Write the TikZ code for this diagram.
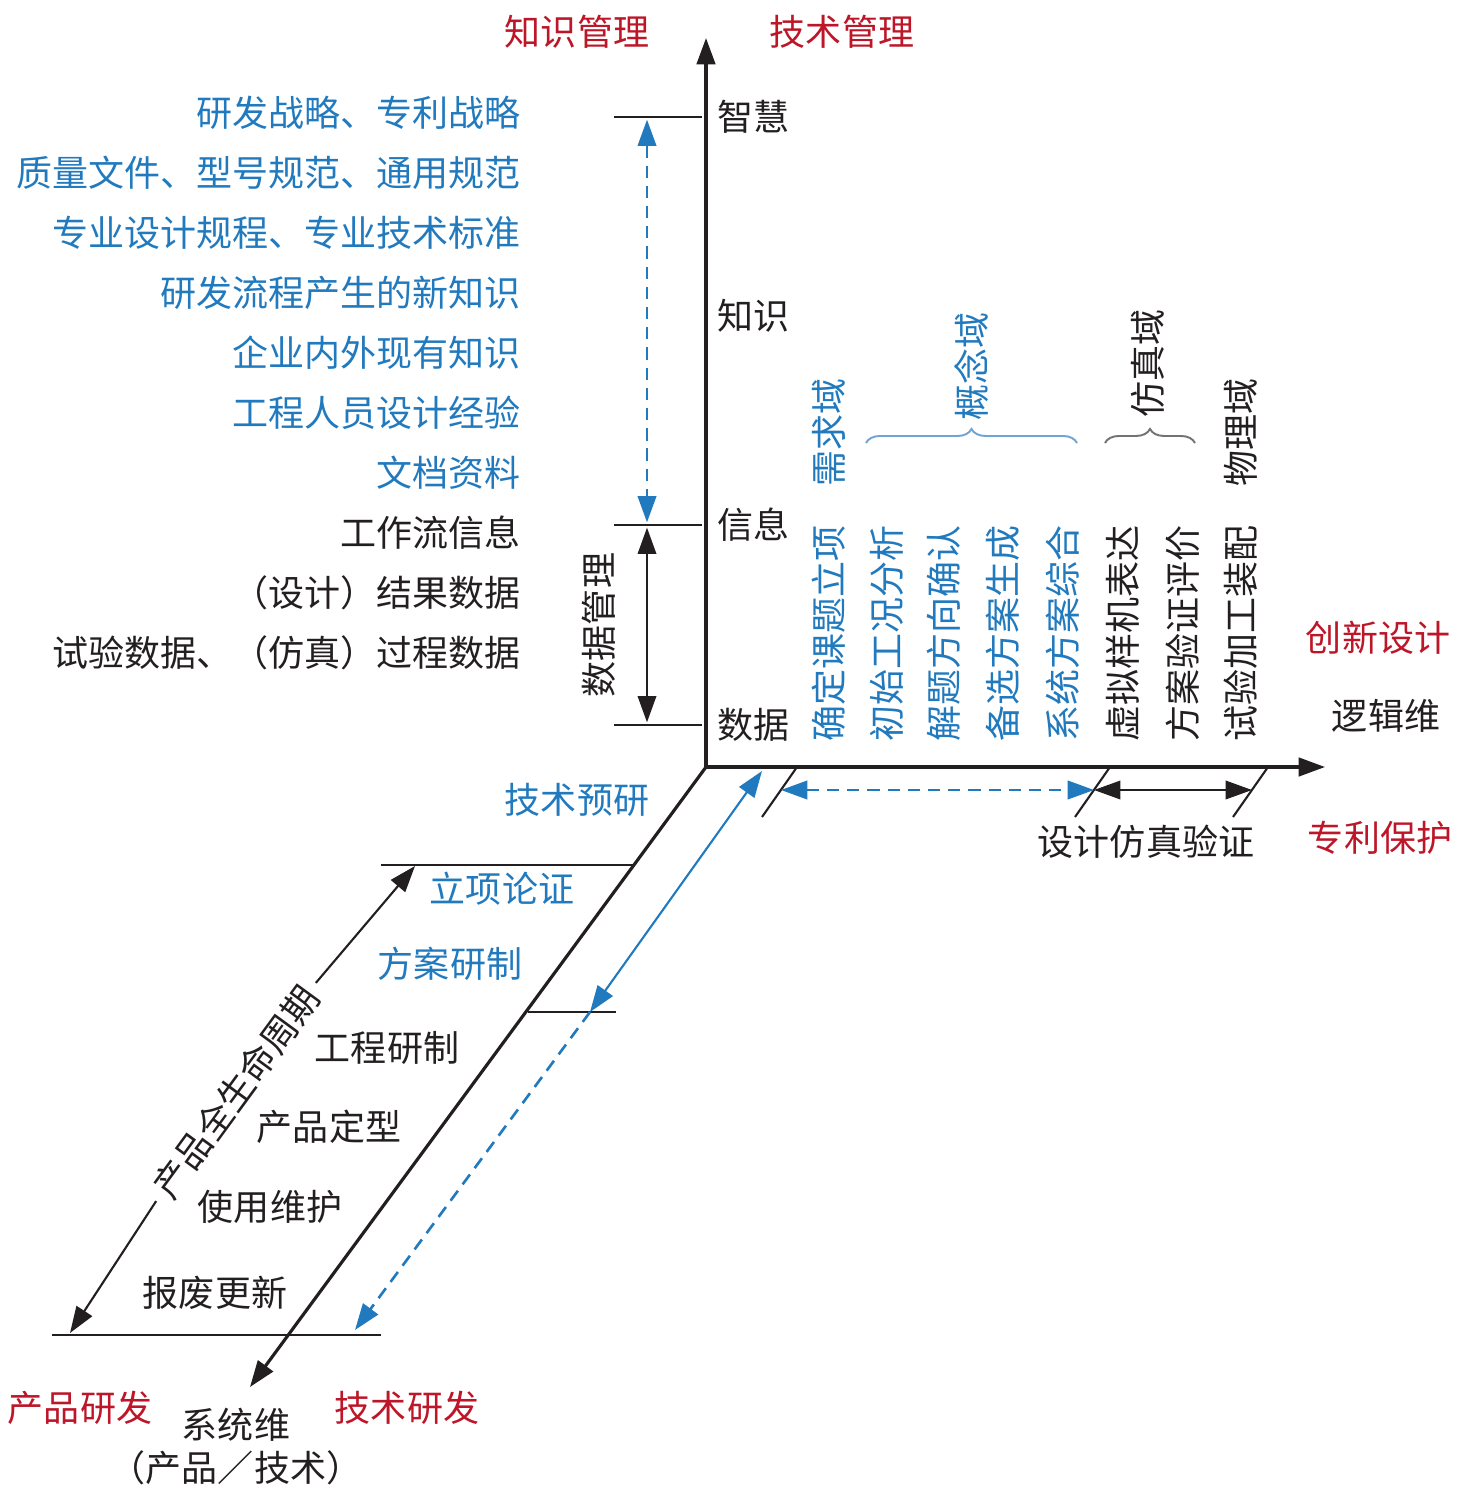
\documentclass[tikz,border=0pt]{standalone}
\usepackage{fontspec}
\setmainfont{Noto Sans CJK SC}
\usetikzlibrary{arrows.meta,decorations.pathreplacing}
\definecolor{ink}{RGB}{35,31,32}
\definecolor{kblue}{RGB}{34,122,190}
\definecolor{kred}{RGB}{188,22,40}
\definecolor{lblue}{RGB}{110,165,212}
\definecolor{kgray}{RGB}{115,115,115}

\begin{document}
\begin{tikzpicture}[x=0.02cm,y=-0.02cm,
  >={Triangle[length=15pt,width=10.5pt]},
  every node/.style={inner sep=0pt,font=\fontsize{20.5}{24}\selectfont,text=ink},
  axisln/.style={draw=ink,line width=1.8pt},
  tickln/.style={draw=ink,line width=1.2pt},
  bsolid/.style={draw=kblue,line width=1.2pt},
  bdash/.style={draw=kblue,line width=1.5pt,dash pattern=on 7pt off 4.5pt},
  btxt/.style={text=kblue},
  rtxt/.style={text=kred},
  vtxt/.style={rotate=90,anchor=west},
  dombrace/.style={decorate,decoration={brace,amplitude=8pt},line width=1.1pt}]
\useasboundingbox (0,0) rectangle (1458,1493);

% axes
\coordinate (O) at (706,767);
\coordinate (ytip) at (706,38);
\coordinate (xtip) at (1325,767);
\coordinate (ztip) at (250,1387);
\draw[axisln,->] (O) -- (ytip);
\draw[axisln,->] (O) -- (xtip);
\draw[axisln,->] (O) -- (ztip);

\node[rtxt] (km) at (577,32) {知识管理};
\node[rtxt] (tm) at (842,32) {技术管理};

% vertical levels
\foreach \n/\y/\t in {wis/117/智慧,kno/316/知识,inf/525/信息,dat/725/数据}{
  \node[anchor=west] (\n) at (717,\y) {\t};
}
\foreach \n/\y in {wis/117,inf/525,dat/725}{
  \coordinate (\n L) at (614,\y);
  \coordinate (\n R) at (702,\y);
  \coordinate (\n M) at (647,\y);
  \draw[tickln] (\n L) -- (\n R);
}
\draw[bdash,<->,shorten <=1.5pt,shorten >=1.5pt] (wisM) -- (infM);
\draw[tickln,<->,shorten <=1.5pt,shorten >=1.5pt] (infM) -- (datM);
\node[rotate=90] (dm) at (599,625) {数据管理};

% knowledge sources
\foreach \y/\t in {113/研发战略、专利战略,173/质量文件、型号规范、通用规范,
  233/专业设计规程、专业技术标准,293/研发流程产生的新知识,353/企业内外现有知识,
  413/工程人员设计经验,473/文档资料}{
  \node[btxt,anchor=east] at (521,\y) {\t};
}
\node[anchor=east] (wf) at (521,533) {工作流信息};
\node[anchor=east] (rd) at (521,593) {（设计）结果数据};
\node[anchor=east] (pd) at (521,653) {试验数据、（仿真）过程数据};

% logic dimension columns
\foreach \x/\t in {829/确定课题立项,887/初始工况分析,944/解题方向确认,1003/备选方案生成,1063/系统方案综合}{
  \node[btxt,vtxt] at (\x,742) {\t};
}
\foreach \x/\t in {1123/虚拟样机表达,1183/方案验证评价,1241/试验加工装配}{
  \node[vtxt] at (\x,742) {\t};
}
\node[btxt,vtxt] (req) at (829,487) {需求域};
\node[btxt,vtxt] (con) at (972,421) {概念域};
\node[vtxt] (sim) at (1148,418) {仿真域};
\node[vtxt] (phy) at (1241,487) {物理域};
\coordinate (cb1) at (866,443);
\coordinate (cb2) at (1077,443);
\coordinate (sb1) at (1105,443);
\coordinate (sb2) at (1195,443);
\draw[dombrace,draw=lblue] (cb1) -- (cb2);
\draw[dombrace,draw=kgray] (sb1) -- (sb2);

\node[rtxt] (inn) at (1378,638) {创新设计};
\node (logic) at (1386,716) {逻辑维};
\node[rtxt] (pat) at (1380,838) {专利保护};

% slanted ticks on the logic axis
\foreach \n/\x in {ta/797,tb/1110,tc/1268}{
  \coordinate (\n T) at (\x,767);
  \coordinate (\n B) at (\x-35,817);
  \coordinate (\n M) at (\x-16,790);
  \draw[tickln] (\n T) -- (\n B);
}
\draw[bdash,<->] (taM) -- (tbM);
\draw[tickln,<->] (tbM) -- (tcM);
\node (dsv) at (1146,842) {设计仿真验证};

% system dimension
\coordinate (l1a) at (381,865);
\coordinate (l1b) at (634,865);
\coordinate (l2a) at (528,1012);
\coordinate (l2b) at (616,1012);
\coordinate (l3a) at (52,1335);
\coordinate (l3b) at (381,1335);
\draw[tickln] (l1a) -- (l1b);
\draw[tickln] (l2a) -- (l2b);
\draw[tickln] (l3a) -- (l3b);

\node[btxt] (pre) at (577,800) {技术预研};
\node[btxt] (lx) at (502,889) {立项论证};
\node[btxt] (fa) at (450,964) {方案研制};
\node (gc) at (387,1048) {工程研制};
\node (dx) at (329,1127) {产品定型};
\node (sy) at (270,1207) {使用维护};
\node (bf) at (215,1293) {报废更新};

\coordinate (bmid) at (590,1012);
\coordinate (bup) at (762,771);
\coordinate (bdn) at (355,1330);
\draw[bsolid,<->] (bmid) -- (bup);
\draw[bdash,->] (bmid) -- (bdn);

\coordinate (lcT) at (415,866);
\coordinate (lcB) at (70,1333);
\node[rotate=53.8,inner sep=5pt] (life) at (236,1092) {产品全生命周期};
\draw[tickln,->] (life.east) -- (lcT);
\draw[tickln,->] (life.west) -- (lcB);

\node[rtxt] (prd) at (80,1408) {产品研发};
\node[rtxt] (trd) at (407,1408) {技术研发};
\node (sysd) at (236,1425) {系统维};
\node (sysp) at (236,1468) {（产品／技术）};
\end{tikzpicture}
\end{document}
